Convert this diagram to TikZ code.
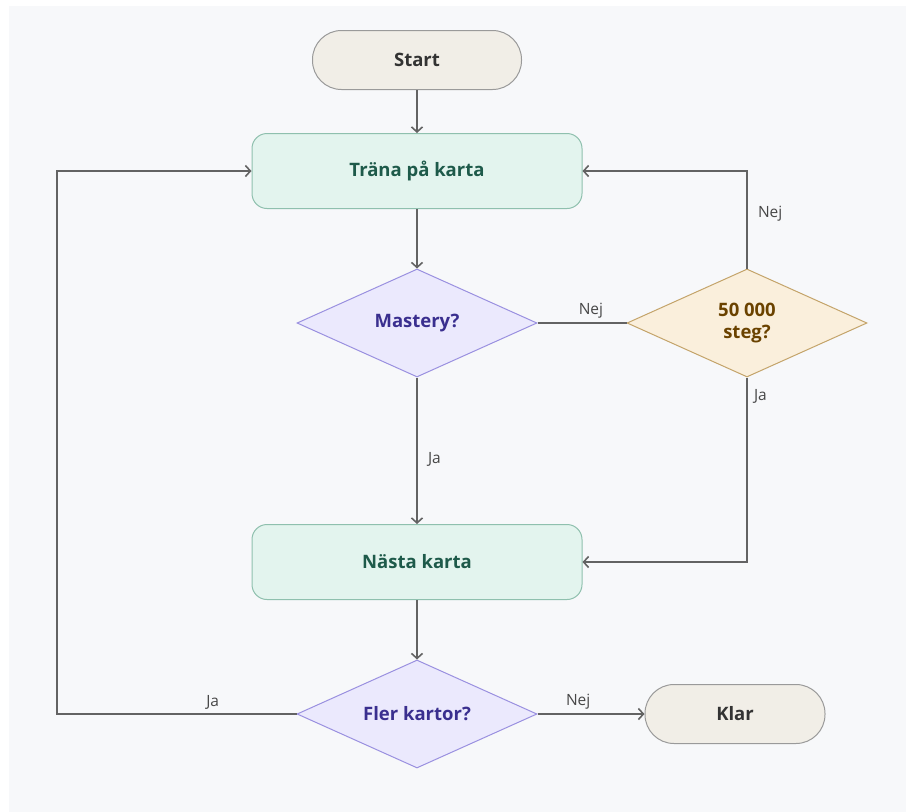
\documentclass[tikz,border=0pt]{standalone}
\usepackage{fontspec}
\setmainfont{Open Sans}
\usetikzlibrary{arrows.meta,shapes.geometric}

\definecolor{bgc}{HTML}{F7F8FA}
\definecolor{linec}{HTML}{636363}
\definecolor{endfill}{HTML}{F1EEE7}
\definecolor{enddraw}{HTML}{9A9A9A}
\definecolor{endtext}{HTML}{333333}
\definecolor{actfill}{HTML}{E3F4EE}
\definecolor{actdraw}{HTML}{8FC0AE}
\definecolor{acttext}{HTML}{1E5A4A}
\definecolor{qfill}{HTML}{EBE9FD}
\definecolor{qdraw}{HTML}{9A90E0}
\definecolor{qtext}{HTML}{3A2F8F}
\definecolor{limfill}{HTML}{FAEFDC}
\definecolor{limdraw}{HTML}{C4A46A}
\definecolor{limtext}{HTML}{6A4200}

\begin{document}
\begin{tikzpicture}[x=1pt,y=-1pt,
  every node/.style={font=\fontsize{18.5}{22}\selectfont\bfseries,inner sep=0pt},
  term/.style={draw=enddraw,fill=endfill,text=endtext,line width=1pt,rounded corners=29pt,minimum height=59pt},
  act/.style={draw=actdraw,fill=actfill,text=acttext,line width=1pt,rounded corners=15pt,minimum width=330pt,minimum height=75pt},
  quest/.style={diamond,draw=qdraw,fill=qfill,text=qtext,line width=1pt,minimum width=240pt,minimum height=108pt,aspect=2.22},
  limit/.style={diamond,draw=limdraw,fill=limfill,text=limtext,line width=1pt,minimum width=240pt,minimum height=108pt,aspect=2.22,align=center},
  lbl/.style={font=\fontsize{15.5}{18}\selectfont,text=endtext!90,inner sep=4pt},
  ln/.style={line width=2pt,draw=linec},
  e/.style={ln,-{Straight Barb[length=5pt,width=11pt,line width=1.6pt]}}]
\useasboundingbox (0,0) rectangle (906,812);
\fill[bgc] (9,6) rectangle (906,812);
\node[term,minimum width=209pt] (Start) at (417,60) {Start};
\node[act] (TranaKarta) at (417,171) {Träna på karta};
\node[quest] (Mastery) at (417,323) {Mastery?};
\node[limit] (Steg) at (747,323) {50 000\\steg?};
\node[act] (NastaKarta) at (417,562) {Nästa karta};
\node[quest] (FlerKartor) at (417,714) {Fler kartor?};
\node[term,minimum width=180pt] (Klar) at (735,714) {Klar};
\coordinate (LoopCorner) at (57,714);
\draw[e] (Start) -- (TranaKarta);
\draw[e] (TranaKarta) -- (Mastery);
\draw[e] (Mastery) -- node[lbl,right,xshift=6pt,pos=0.56] {Ja} (NastaKarta);
\draw[ln] (Mastery) -- node[lbl,above,pos=0.6] {Nej} (Steg);
\draw[e] (Steg.north) |- node[lbl,right,xshift=6pt,pos=0.28] {Nej} (TranaKarta.east);
\draw[e] (Steg.south) |- node[lbl,right,xshift=2pt,pos=0.05] {Ja} (NastaKarta.east);
\draw[e] (NastaKarta) -- (FlerKartor);
\draw[e] (FlerKartor.west) -- node[lbl,above,pos=0.35] {Ja} (LoopCorner) |- (TranaKarta.west);
\draw[e] (FlerKartor) -- node[lbl,above,pos=0.38] {Nej} (Klar);
\end{tikzpicture}
\end{document}
